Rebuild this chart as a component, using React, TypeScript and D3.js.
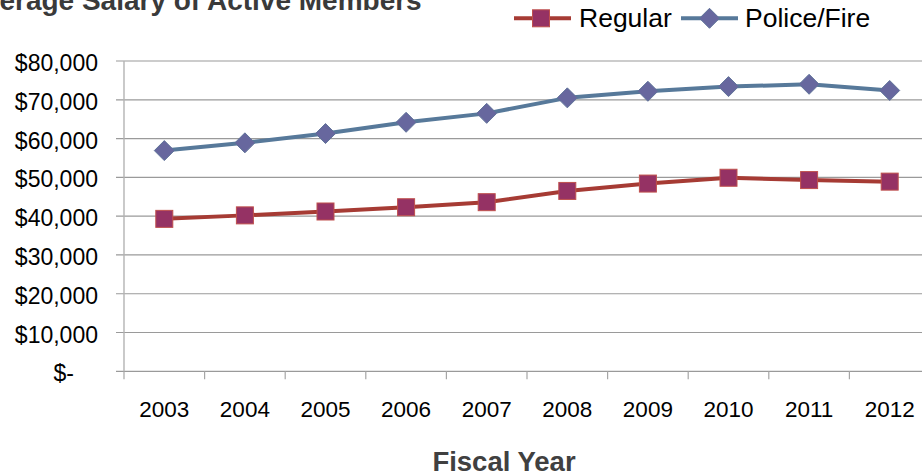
import React from "react";
import * as d3 from "d3";

// Fiscal years on the category axis
const years = ["2003", "2004", "2005", "2006", "2007", "2008", "2009", "2010", "2011", "2012"];

// Average salary of active members, by plan
const regular = [39300, 40200, 41200, 42300, 43600, 46500, 48400, 49900, 49300, 48900];
const policeFire = [56900, 58900, 61300, 64200, 66500, 70500, 72200, 73400, 74000, 72400];

// Value axis ticks and their accounting-style labels
const yTicks = [0, 10000, 20000, 30000, 40000, 50000, 60000, 70000, 80000];
const yTickLabels = ["$-", "$10,000", "$20,000", "$30,000", "$40,000", "$50,000", "$60,000", "$70,000", "$80,000"];

const W = 922;
const H = 475;
const FONT = "'Liberation Sans', Arial, Helvetica, sans-serif";

const REG_LINE = "#A63B34";
const REG_FILL = "#953264";
const REG_EDGE = "#C0504D";
const PF_LINE = "#57799A";
const PF_FILL = "#67679E";
const PF_EDGE = "#5F7399";

export default function App() {
  const x = d3.scaleBand<string>().domain(years).range([124, 930]).padding(0);
  const y = d3.scaleLinear().domain([0, 80000]).range([371.3, 61]);
  const cx = (i: number) => (x(years[i]) as number) + x.bandwidth() / 2;

  const line = d3
    .line<number>()
    .x((_, i) => cx(i))
    .y((d) => y(d));

  const sq = 17;
  const dia = 10;
  const diamond = (px: number, py: number) =>
    `M${px},${py - dia}L${px + dia},${py}L${px},${py + dia}L${px - dia},${py}Z`;

  const boundaries = years.map((yr) => x(yr) as number).concat([x.range()[1]]);

  return (
    <svg
      width={W}
      height={H}
      viewBox={`0 0 ${W} ${H}`}
      style={{ position: "absolute", left: 0, top: 0, background: "#fff" }}
      fontFamily={FONT}
    >
      {/* title, partly clipped on the left */}
      <text x={421.7} y={10} textAnchor="end" fontSize={28} fontWeight="bold" fill="#3a3a3a">
        Average Salary of Active Members
      </text>

      {/* gridlines + value labels */}
      {yTicks.map((t, i) => (
        <g key={t}>
          <line x1={116} x2={930} y1={y(t)} y2={y(t)} stroke="#9a9a9a" strokeWidth={1.2} />
          <text
            x={t === 0 ? 74 : 98}
            y={y(t) + 10}
            textAnchor="end"
            fontSize={23}
            fill="#000"
          >
            {yTickLabels[i]}
          </text>
        </g>
      ))}

      {/* value axis line */}
      <line x1={124} x2={124} y1={y(80000)} y2={y(0)} stroke="#b3b3b3" strokeWidth={1.4} />

      {/* category tick marks */}
      {boundaries.map((b, i) => (
        <line key={i} x1={b} x2={b} y1={y(0)} y2={y(0) + 8} stroke="#a6a6a6" strokeWidth={1.2} />
      ))}

      {/* category labels */}
      {years.map((yr, i) => (
        <text key={yr} x={cx(i)} y={417} textAnchor="middle" fontSize={22.5} fill="#000">
          {yr}
        </text>
      ))}

      <text x={504} y={471} textAnchor="middle" fontSize={27.5} fontWeight="bold" fill="#404040">
        Fiscal Year
      </text>

      {/* Police/Fire series */}
      <path d={line(policeFire) || ""} fill="none" stroke={PF_LINE} strokeWidth={4} strokeLinejoin="round" />
      {policeFire.map((v, i) => (
        <path key={i} d={diamond(cx(i), y(v))} fill={PF_FILL} stroke={PF_EDGE} strokeWidth={1} />
      ))}

      {/* Regular series */}
      <path d={line(regular) || ""} fill="none" stroke={REG_LINE} strokeWidth={4} strokeLinejoin="round" />
      {regular.map((v, i) => (
        <rect
          key={i}
          x={cx(i) - sq / 2}
          y={y(v) - sq / 2}
          width={sq}
          height={sq}
          fill={REG_FILL}
          stroke={REG_EDGE}
          strokeWidth={1}
        />
      ))}

      {/* legend */}
      <g>
        <line x1={514} x2={571} y1={18.3} y2={18.3} stroke={REG_LINE} strokeWidth={4} />
        <rect x={541 - sq / 2} y={18.3 - sq / 2} width={sq} height={sq} fill={REG_FILL} stroke={REG_EDGE} strokeWidth={1} />
        <text x={579} y={27} fontSize={26.5} fill="#000">
          Regular
        </text>
        <line x1={681} x2={738} y1={18.3} y2={18.3} stroke={PF_LINE} strokeWidth={4} />
        <path d={diamond(709.5, 18.3)} fill={PF_FILL} stroke={PF_EDGE} strokeWidth={1} />
        <text x={745} y={27} fontSize={26.5} fill="#000">
          Police/Fire
        </text>
      </g>
    </svg>
  );
}
